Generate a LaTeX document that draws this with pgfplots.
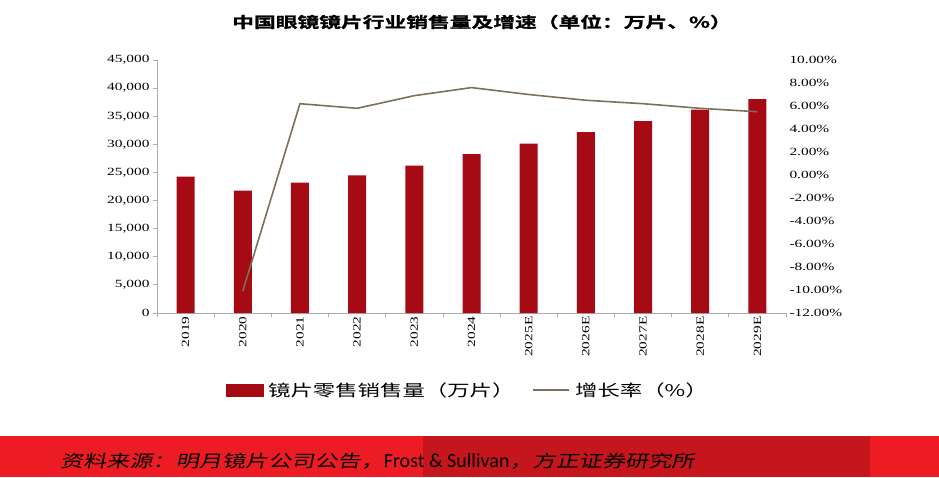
\documentclass[border=0pt]{standalone}
\usepackage{fontspec}
\usepackage{pgfplots}
\pgfplotsset{compat=1.18}
\setmainfont{Liberation Serif}
\newfontfamily\tickfont{Liberation Serif}[FakeStretch=1.4]
\newfontfamily\cjk{Noto Sans CJK SC}[FakeStretch=1.4]
\newfontfamily\cjkbold{Noto Sans CJK SC Bold}[FakeStretch=1.45,FakeBold=1.2]
\newfontfamily\cjksrc{Noto Sans CJK SC}[FakeStretch=1.36,FakeSlant=0.2]
\newfontfamily\carl{Carlito}

\definecolor{barred}{RGB}{166,10,20}
\definecolor{growth}{RGB}{125,112,88}
\definecolor{bandred}{RGB}{237,28,36}
\definecolor{banddark}{RGB}{196,22,28}

\begin{document}
\begin{tikzpicture}[x=1pt,y=1pt]
\useasboundingbox (0,0) rectangle (939,477);

% volume, left axis
\begin{axis}[
    at={(157pt,164pt)}, anchor=south west,
    scale only axis, width=629pt, height=253pt,
    xmin=-0.5, xmax=10.5, ymin=0, ymax=45000,
    axis x line*=bottom, axis y line*=left,
    axis line style={gray!65, line width=0.8pt},
    every tick/.style={gray!65, line width=0.8pt},
    tick align=outside, major tick length=4pt,
    xtick={-0.5,0.5,...,10.5}, xticklabels={},
    extra x ticks={0,1,...,10},
    extra x tick labels={2019,2020,2021,2022,2023,2024,2025E,2026E,2027E,2028E,2029E},
    extra x tick style={major tick length=0pt},
    xticklabel style={rotate=90, anchor=east, font=\tickfont\fontsize{11}{12}\selectfont},
    ytick={0,5000,...,45000}, scaled y ticks=false,
    yticklabel style={font=\tickfont\fontsize{11}{12}\selectfont},
    /pgf/number format/1000 sep={,},
    /pgf/number format/assume math mode=true,
]
\addplot[ybar, bar width=18pt, fill=barred, draw=none] coordinates {
    (0,24250) (1,21760) (2,23190) (3,24500) (4,26210) (5,28240)
    (6,30130) (7,32150) (8,34110) (9,36180) (10,38020)};
\end{axis}

% growth rate, right axis
\begin{axis}[
    at={(157pt,164pt)}, anchor=south west,
    scale only axis, width=629pt, height=253pt,
    xmin=-0.5, xmax=10.5, ymin=-12, ymax=10,
    axis x line=none, axis y line*=right,
    y axis line style={draw=none}, major tick length=0pt,
    ytick={-12,-10,...,10},
    yticklabel={\pgfmathprintnumber[fixed,fixed zerofill,precision=2,assume math mode=true]{\tick}\%},
    yticklabel style={font=\tickfont\fontsize{11}{12}\selectfont},
    legend style={at={(0.494,-0.305)}, anchor=center, draw=none, fill=none,
        legend columns=2, font=\cjk\fontsize{16}{18}\selectfont,
        /tikz/every even column/.append style={column sep=16pt},
        /tikz/every odd column/.append style={column sep=3pt}},
]
\addlegendimage{legend image code/.code={\fill[barred] (0pt,-6pt) rectangle (37pt,6pt);}}
\addlegendentry{镜片零售销售量（万片）}
\addplot[growth, line width=1.6pt, no marks,
    legend image code/.code={\draw[growth, line width=1.6pt] (0pt,0pt) -- (36pt,0pt);}]
    coordinates {
    (1,-10.1) (2,6.2) (3,5.8) (4,6.9) (5,7.6)
    (6,7.0) (7,6.5) (8,6.2) (9,5.8) (10,5.5)};
\addlegendentry{增长率（\%）}
\end{axis}

\node[font=\cjkbold\fontsize{15}{18}\selectfont] at (482,455)
    {中国眼镜镜片行业销售量及增速（单位：万片、\%）};

\fill[bandred] (0,0) rectangle (939,41);
\fill[banddark] (423,0) rectangle (870,41);
\node[anchor=west, inner sep=0pt] at (60,16)
    {{\cjksrc\fontsize{17}{19}\selectfont 资料来源：明月镜片公司公告，}{\carl\fontsize{20}{22}\selectfont Frost \& Sullivan}{\cjksrc\fontsize{17}{19}\selectfont ，方正证券研究所}};
\end{tikzpicture}
\end{document}
